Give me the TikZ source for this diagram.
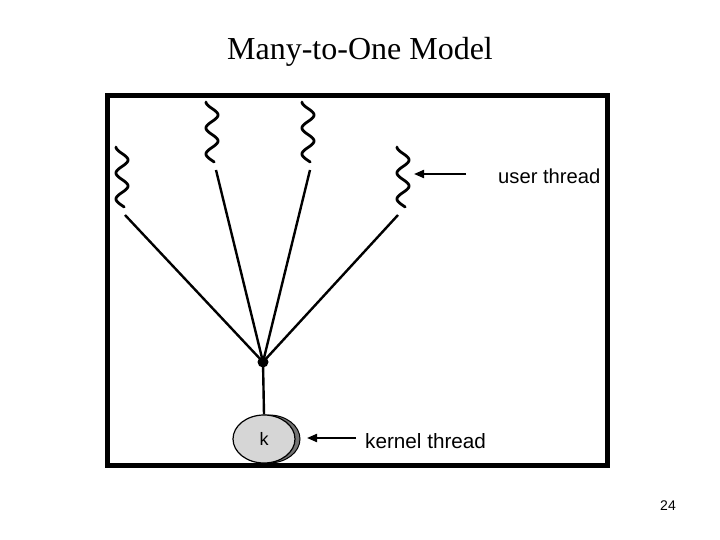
\documentclass[tikz,border=0pt]{standalone}
\usepackage{fontspec}
\setmainfont{Liberation Serif}
\newfontfamily\arialf{Liberation Sans}
\usetikzlibrary{arrows.meta,shapes.geometric}
\tikzset{
  wire/.style={line width=2.4pt},
  squig/.style={line width=2.8pt, line cap=round},
  lbl/.style={font=\arialf\fontsize{20.2}{22}\selectfont, anchor=west, inner sep=0pt},
  pointer/.style={line width=2pt, -{Triangle[length=10pt,width=8pt]}},
}
\newcommand{\squiggle}[3]{% cx, ytop, name
  \draw[squig] plot[domain=0:60, samples=80, smooth] ({#1-6*cos(\x*13.846)}, {#2+\x});
  \coordinate (#3) at (#1,#2+60);
}
\begin{document}
\begin{tikzpicture}[x=1pt,y=-1pt]
\useasboundingbox (0,0) rectangle (720,540);
\node[font=\fontsize{32}{36}\selectfont] (title) at (360,52) {Many-to-One Model};
\draw[line width=5pt] (107,96) rectangle (607,465);
\squiggle{122}{147}{s1}
\squiggle{212}{102}{s2}
\squiggle{308}{102}{s3}
\squiggle{403}{147}{s4}
\coordinate (j) at (263,362);
\coordinate (a1) at (125,215);
\coordinate (a2) at (216,170);
\coordinate (a3) at (310,170);
\coordinate (a4) at (398,215);
\draw[wire] (a1) -- (j);
\draw[wire] (a2) -- (j);
\draw[wire] (a3) -- (j);
\draw[wire] (a4) -- (j);
\fill (j) circle (5.5);
\fill[black!55, draw=black, line width=1pt] (269,439) ellipse (31 and 24);
\node[draw=black, line width=1.2pt, fill=black!16, ellipse, minimum width=62, minimum height=48, inner sep=0pt,
  font=\arialf\fontsize{18}{20}\selectfont] (k) at (264,439) {k};
\draw[wire] (j) -- (k.north);
\node[lbl] (ut) at (498,176) {user thread};
\coordinate (ua) at (466,174);
\coordinate (ub) at (414,174);
\draw[pointer] (ua) -- (ub);
\node[lbl, font=\arialf\fontsize{20.7}{22}\selectfont] (kt) at (365,441) {kernel thread};
\coordinate (ka) at (356,438);
\coordinate (kb) at (307,438);
\draw[pointer] (ka) -- (kb);
\node[font=\arialf\fontsize{14}{16}\selectfont] (pg) at (668,506) {24};
\end{tikzpicture}
\end{document}
